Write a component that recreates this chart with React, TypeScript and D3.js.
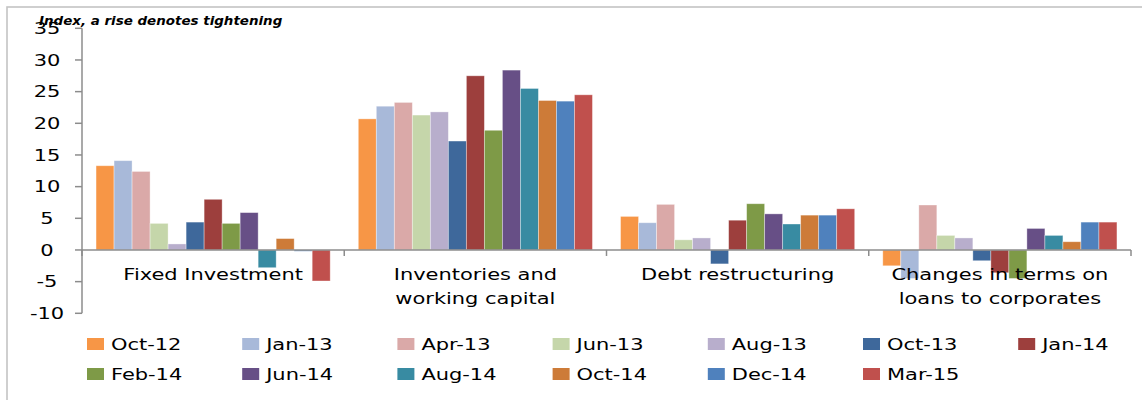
import React from "react";
import * as d3 from "d3";

const categories = [
  ["Fixed Investment"],
  ["Inventories and", "working capital"],
  ["Debt restructuring"],
  ["Changes in terms on", "loans to corporates"],
];

const seriesNames = [
  "Oct-12", "Jan-13", "Apr-13", "Jun-13", "Aug-13", "Oct-13", "Jan-14",
  "Feb-14", "Jun-14", "Aug-14", "Oct-14", "Dec-14", "Mar-15",
];

const seriesColors = [
  "#F79646", "#A8B9D9", "#DAA9A8", "#C5D6AA", "#B8AECC", "#3E689B", "#9D3F3D",
  "#7E9A47", "#674F86", "#388BA2", "#CD7B38", "#4F81BD", "#C0504D",
];

// values per category, in series order
const fixedInvestment = [13.3, 14.1, 12.4, 4.2, 0.95, 4.4, 8.0, 4.2, 5.9, -2.8, 1.8, -0.2, -4.9];
const inventories = [20.7, 22.7, 23.3, 21.3, 21.8, 17.2, 27.5, 18.9, 28.4, 25.5, 23.6, 23.5, 24.5];
const debtRestructuring = [5.3, 4.3, 7.2, 1.6, 1.9, -2.2, 4.7, 7.3, 5.7, 4.1, 5.5, 5.5, 6.5];
const changesInTerms = [-2.5, -4.5, 7.1, 2.3, 1.9, -1.7, -3.6, -4.5, 3.4, 2.3, 1.3, 4.4, 4.4];

const categoryValues = [fixedInvestment, inventories, debtRestructuring, changesInTerms];

const yTicks = [-10, -5, 0, 5, 10, 15, 20, 25, 30, 35];

const W = 1142;
const H = 400;
const FONT = "'DejaVu Sans', Verdana, sans-serif";
const SX = 1.31;

export default function App() {
  const plotLeft = 82;
  const plotRight = 1131;
  const y = d3.scaleLinear().domain([-10, 35]).range([313.3, 28.3]);
  const x0 = d3
    .scaleBand<number>()
    .domain(categories.map((_, i) => i))
    .range([plotLeft, plotRight])
    .paddingInner(0)
    .paddingOuter(0);
  const x1 = d3
    .scaleBand<number>()
    .domain(seriesNames.map((_, i) => i))
    .range([0, x0.bandwidth()])
    .paddingInner(0)
    .paddingOuter(0.78);

  const zeroY = y(0);
  const axisColor = "#8c8c8c";

  const legendCols = 7;
  const legendX0 = 87;
  const legendStep = 155.2;
  const legendRows = [338, 368];

  return (
    <svg
      width={W}
      height={H}
      style={{ position: "absolute", left: 0, top: 0, display: "block", background: "#fff" }}
      fontFamily={FONT}
    >
      <rect x={0} y={0} width={W} height={H} fill="#fff" />
      <rect x={7} y={7} width={W + 20} height={H + 20} fill="none" stroke="#c4c4c4" strokeWidth={1.6} />

      {/* bars */}
      {categoryValues.map((vals, ci) => (
        <g key={ci} transform={`translate(${x0(ci)},0)`}>
          {vals.map((v, si) => (
            <rect
              key={si}
              x={x1(si)}
              width={x1.bandwidth()}
              y={Math.min(y(v), zeroY)}
              height={Math.abs(y(v) - zeroY)}
              fill={seriesColors[si]}
              stroke="#ffffff"
              strokeOpacity={0.45}
              strokeWidth={0.8}
            />
          ))}
        </g>
      ))}

      {/* y axis */}
      <line x1={plotLeft} x2={plotLeft} y1={y(35)} y2={y(-10)} stroke={axisColor} strokeWidth={1.5} />
      {yTicks.map((t) => (
        <g key={t}>
          <line x1={plotLeft - 7} x2={plotLeft} y1={y(t)} y2={y(t)} stroke={axisColor} strokeWidth={1.5} />
          <text
            transform={`translate(47,${y(t) + 5.8}) scale(${SX},1)`}
            textAnchor="middle"
            fontSize={16}
            fill="#000"
          >
            {t}
          </text>
        </g>
      ))}

      {/* zero line with category ticks */}
      <line x1={plotLeft} x2={plotRight} y1={zeroY} y2={zeroY} stroke={axisColor} strokeWidth={1.5} />
      {d3.range(categories.length + 1).map((i) => {
        const xx = i < categories.length ? (x0(i) as number) : plotRight;
        return (
          <line key={i} x1={xx} x2={xx} y1={zeroY} y2={zeroY + 6} stroke={axisColor} strokeWidth={1.5} />
        );
      })}

      {/* category labels */}
      {categories.map((lines, ci) => {
        const cx = (x0(ci) as number) + x0.bandwidth() / 2;
        return (
          <g key={ci}>
            {lines.map((ln, li) => (
              <text
                key={li}
                transform={`translate(${cx},${280 + li * 23.5}) scale(${SX},1)`}
                textAnchor="middle"
                fontSize={16}
                fill="#000"
              >
                {ln}
              </text>
            ))}
          </g>
        );
      })}

      {/* title */}
      <text
        transform={`translate(39,25) scale(1.12,1)`}
        fontSize={12}
        fontWeight="bold"
        fontStyle="italic"
        fill="#000"
      >
        Index, a rise denotes tightening
      </text>

      {/* legend */}
      {seriesNames.map((name, i) => {
        const col = i % legendCols;
        const row = Math.floor(i / legendCols);
        const lx = legendX0 + col * legendStep;
        const ly = legendRows[row];
        return (
          <g key={name}>
            <rect x={lx} y={ly} width={17} height={12} fill={seriesColors[i]} />
            <text
              transform={`translate(${lx + 24},${ly + 11.5}) scale(${SX},1)`}
              fontSize={16}
              fill="#000"
            >
              {name}
            </text>
          </g>
        );
      })}
    </svg>
  );
}
